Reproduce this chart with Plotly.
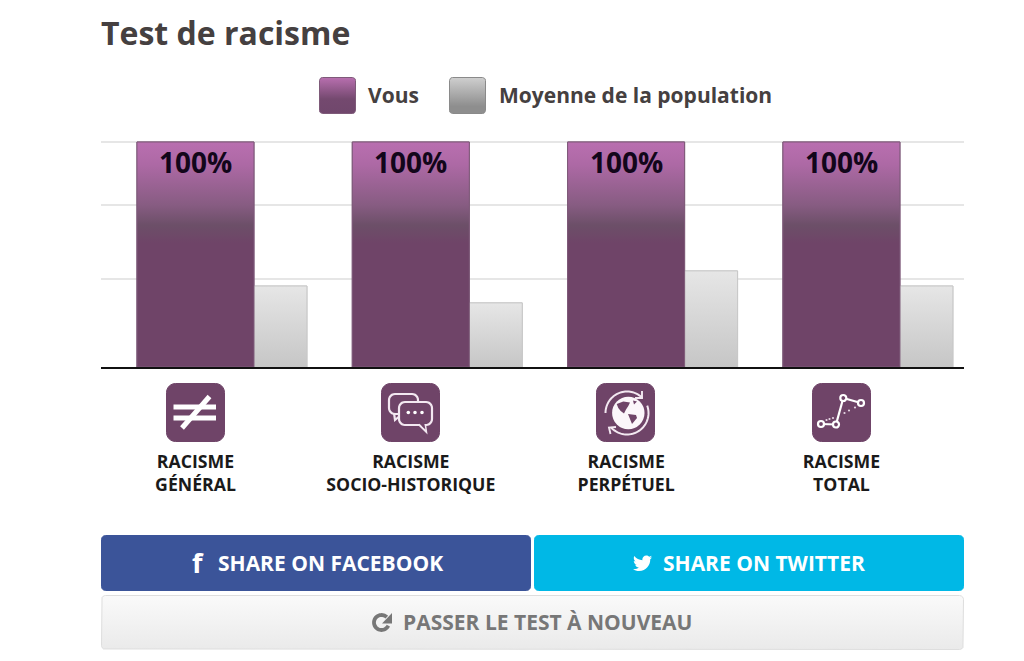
import math
import plotly.graph_objects as go

# ---------- data ----------
categories = ["RACISME<br>GÉNÉRAL", "RACISME<br>SOCIO-HISTORIQUE", "RACISME<br>PERPÉTUEL", "RACISME<br>TOTAL"]
vous_values = [100, 100, 100, 100]
moyenne_values = [36, 28.5, 42.7, 36]
grid_values = [39, 72, 100]
series_names = ["Vous", "Moyenne de la population"]

W, H = 1024, 661
FONT = "Open Sans, sans-serif"
DARK = "#454040"
PURPLE = "#6F4468"
WHITE = "#ffffff"
V_OFF, V_W = -0.272, 0.5435
M_OFF, M_W = 0.2715, 0.246
PURPLE_SCALE = [[0, "#6F4468"], [0.55, "#6F4468"], [0.63, "#6C4F68"], [0.72, "#875C82"], [0.9, "#AD69A5"], [1, "#B96FB0"]]
GRAY_SCALE = [[0, "#C6C6C6"], [1, "#E6E6E6"]]
x_idx = list(range(len(categories)))

fig = go.Figure()

# real bars, through the axes
fig.add_trace(go.Bar(x=x_idx, y=moyenne_values, name=series_names[1], offset=M_OFF, width=M_W,
                     marker=dict(color="#D6D6D6", line=dict(color="#C8C8C8", width=1)),
                     showlegend=False, cliponaxis=False))
fig.add_trace(go.Bar(x=x_idx, y=vous_values, name=series_names[0], offset=V_OFF, width=V_W,
                     marker=dict(color=PURPLE, line=dict(color="#7E5A79", width=1)),
                     showlegend=False, cliponaxis=False))

# gradient skin on each bar
def skin(i, v, off, wid, scale, line):
    l, r = i + off, i + off + wid
    fig.add_trace(go.Scatter(x=[l, r, r, l, l], y=[0, 0, v, v, 0], mode="lines", fill="toself",
                             line=dict(color=line, width=1), fillgradient=dict(type="vertical", colorscale=scale),
                             hoverinfo="skip", showlegend=False, cliponaxis=False))

for i, v in zip(x_idx, moyenne_values):
    skin(i, v, M_OFF, M_W, GRAY_SCALE, "#C8C8C8")
for i, v in zip(x_idx, vous_values):
    skin(i, v, V_OFF, V_W, PURPLE_SCALE, "#7E5A79")

annotations = []
for i, v in zip(x_idx, vous_values):
    annotations.append(dict(x=i, y=v, xref="x", yref="y", yanchor="top", yshift=1, showarrow=False,
                            text=f"{v}%", font=dict(family=FONT, size=28, color="#12061A", weight=700)))

# ---------- page furniture, drawn on a full-page pixel axis ----------
def rr_pts(x0, y0, x1, y1, r):
    xs, ys = [], []
    for cx, cy, a0 in ((x1 - r, y0 + r, -90), (x1 - r, y1 - r, 0), (x0 + r, y1 - r, 90), (x0 + r, y0 + r, 180)):
        for k in range(7):
            a = math.radians(a0 + 15 * k)
            xs.append(cx + r * math.cos(a))
            ys.append(cy + r * math.sin(a))
    return xs + xs[:1], ys + ys[:1]

def grad_box(x0, y0, x1, y1, r, scale, line):
    xs, ys = rr_pts(x0, y0, x1, y1, r)
    fig.add_trace(go.Scatter(x=xs, y=ys, xaxis="x2", yaxis="y2", mode="lines", fill="toself",
                             line=dict(color=line, width=1), fillgradient=dict(type="vertical", colorscale=scale),
                             hoverinfo="skip", showlegend=False))

def path_from(xs, ys, close=True):
    return "M" + " L".join(f"{a:.2f},{b:.2f}" for a, b in zip(xs, ys)) + (" Z" if close else "")

shapes = []
def box(x0, y0, x1, y1, r, fill, line=None):
    xs, ys = rr_pts(x0, y0, x1, y1, r)
    shapes.append(dict(type="path", xref="x2", yref="y2", path=path_from(xs, ys), fillcolor=fill,
                       line=dict(color=line or fill, width=1), layer="below"))

def poly(ox, oy, pts, fill=WHITE, line=None, width=0, close=True, scale=1.0):
    xs = [ox + p[0] * scale for p in pts]
    ys = [oy + p[1] * scale for p in pts]
    d = dict(type="path", xref="x2", yref="y2", path=path_from(xs, ys, close), layer="above")
    d["fillcolor"] = fill if close else "rgba(0,0,0,0)"
    d["line"] = dict(color=line or "rgba(0,0,0,0)", width=width)
    shapes.append(d)

def seg(ox, oy, a, b, width=5, color=WHITE):
    poly(ox, oy, [a, b], line=color, width=width, close=False)

def circle(ox, oy, cx, cy, r, fill=WHITE, line=None, width=0):
    shapes.append(dict(type="circle", xref="x2", yref="y2", x0=ox + cx - r, x1=ox + cx + r,
                       y0=oy + cy - r, y1=oy + cy + r, fillcolor=fill,
                       line=dict(color=line or "rgba(0,0,0,0)", width=width), layer="above"))

def arc(cx, cy, r, a0, a1, n=40):
    return [(cx + r * math.cos(math.radians(a0 + (a1 - a0) * k / n)),
             cy + r * math.sin(math.radians(a0 + (a1 - a0) * k / n))) for k in range(n + 1)]

SOFT = "#F3E8F1"
def rbubble(ox, oy, x0, y0, x1, y1, r, tail, width=2.2):
    xs, ys = rr_pts(x0, y0, x1, y1, r)
    poly(ox, oy, list(zip(xs, ys)), fill=PURPLE, line=SOFT, width=width)
    poly(ox, oy, tail, fill=PURPLE, line=SOFT, width=width, close=False)

# legend
grad_box(319.5, 77.5, 355.5, 113.5, 3, [[0, "#70476C"], [0.4, "#74496F"], [1, "#B86FAF"]], "#7E5A79")
grad_box(449.5, 77.5, 485.5, 113.5, 3, [[0, "#8E8E8E"], [0.2, "#8E8E8E"], [1, "#CFCFCF"]], "#8A8A8A")
annotations.append(dict(x=366, y=95, xref="x2", yref="y2", xanchor="left", showarrow=False, text=series_names[0],
                        font=dict(family=FONT, size=21, color=DARK, weight=700)))
annotations.append(dict(x=497, y=95, xref="x2", yref="y2", xanchor="left", showarrow=False, text=series_names[1],
                        font=dict(family=FONT, size=21, color=DARK, weight=700)))

# icons
ICON_Y = 383
ICON_X = [166, 381, 596, 812]
for ox in ICON_X:
    box(ox + 0.5, ICON_Y + 0.5, ox + 58.5, ICON_Y + 58.5, 9, PURPLE)

# not-equal
ox = ICON_X[0]
seg(ox, ICON_Y, (7.5, 24), (50, 24), 5)
seg(ox, ICON_Y, (7.5, 35), (50, 35), 5)
seg(ox, ICON_Y, (43.5, 13.5), (16, 45), 5)

# chat bubbles
ox = ICON_X[1]
rbubble(ox, ICON_Y, 8, 11, 37, 31, 6, [(13, 30), (14, 37), (20, 32)])
rbubble(ox, ICON_Y, 18, 19, 51, 42, 6, [(38, 41.5), (45, 48.5), (44, 41.5)])
poly(ox, ICON_Y, [(38.8, 41), (44.4, 46.5), (43.4, 41)], fill=PURPLE)
for dx in (27.3, 34, 41):
    circle(ox, ICON_Y, dx, 29.5, 1.8)

# globe
ox = ICON_X[2]
circle(ox, ICON_Y, 32.3, 30, 16.2, fill="#FBF6FA")
for pts in ([(20.7, 21), (27.3, 18.5), (34, 19.5), (32.3, 23), (30, 26.5), (28, 30.5), (24.7, 28), (22.3, 25)],
            [(32, 31), (40, 32), (41, 35), (36, 41), (34, 36)],
            [(37, 17.5), (41, 18.5), (38, 21.5)]):
    poly(ox, ICON_Y, pts, fill=PURPLE)
poly(ox, ICON_Y, arc(31, 30, 21.5, 180, 316), line=SOFT, width=2, close=False)
poly(ox, ICON_Y, arc(31, 30, 21.5, -20, 138), line=SOFT, width=2, close=False)
poly(ox, ICON_Y, [(46, 8), (46, 15), (39, 15)], line=SOFT, width=1.9, close=False)
poly(ox, ICON_Y, [(20, 44), (13, 44.5), (14.5, 51)], line=SOFT, width=1.9, close=False)

# graph
ox = ICON_X[3]
nodes = [(9, 41), (24, 41.5), (31.3, 15), (49, 20)]
for a, b in zip(nodes, nodes[1:]):
    seg(ox, ICON_Y, a, b, 2.2)
for n in nodes:
    circle(ox, ICON_Y, n[0], n[1], 3, fill=PURPLE, line=WHITE, width=2.2)
for d in [(14.5, 37), (17.5, 36), (21, 35), (32.5, 30), (37, 27.5), (43, 24.5)]:
    circle(ox, ICON_Y, d[0], d[1], 1.1, fill="#E6D5E3")

# buttons
box(101.5, 535.5, 530.5, 590.5, 4, "#3B5499")
box(534.5, 535.5, 963.5, 590.5, 4, "#00B8E6")
grad_box(101.5, 595.5, 963.5, 649.5, 4, [[0, "#EAEAEA"], [1, "#FAFAFA"]], "#DEDEDE")

# twitter bird (16-unit design, scaled)
def bird(ox, oy, s):
    raw = ("M5.03 15 C11.07 15 14.37 10 14.37 5.67 L14.36 5.24 C15.0 4.78 15.56 4.2 16 3.54 C15.41 3.8 14.77 3.98 14.11 4.06 "
           "C14.79 3.65 15.31 3.01 15.56 2.24 C14.92 2.62 14.22 2.89 13.47 3.04 C12.87 2.39 12.01 2 11.07 2 "
           "C9.26 2 7.78 3.47 7.78 5.29 C7.78 5.55 7.81 5.79 7.87 6.03 C5.14 5.9 2.72 4.59 1.11 2.6 "
           "C0.82 3.09 0.66 3.65 0.66 4.25 C0.66 5.39 1.24 6.4 2.13 6.98 C1.59 6.97 1.08 6.82 0.64 6.58 "
           "L0.64 6.62 C0.64 8.21 1.77 9.54 3.27 9.84 C3 9.91 2.71 9.95 2.41 9.95 C2.2 9.95 2 9.93 1.79 9.89 "
           "C2.21 11.2 3.42 12.14 4.86 12.17 C3.73 13.05 2.32 13.58 0.78 13.58 C0.51 13.58 0.26 13.56 0 13.53 "
           "C1.45 14.46 3.17 15 5.03 15 Z")
    toks = raw.replace("M", "M ").replace("L", "L ").replace("C", "C ").split()
    res, is_x = [], True
    for t in toks:
        if t.isalpha():
            res.append(t)
            is_x = True
        else:
            res.append(f"{(ox if is_x else oy) + float(t) * s:.2f}")
            is_x = not is_x
    path, i = "", 0
    while i < len(res):
        if res[i].isalpha():
            path += res[i]
            i += 1
        else:
            path += f"{res[i]},{res[i + 1]} "
            i += 2
    shapes.append(dict(type="path", xref="x2", yref="y2", path=path, fillcolor=WHITE,
                       line=dict(color="rgba(0,0,0,0)", width=0), layer="above"))

bird(633, 553, 1.2)

# refresh glyph
REFRESH = "#777777"
poly(0, 0, arc(381.5, 622.5, 7.5, -45, -335), line=REFRESH, width=3.8, close=False)
poly(0, 0, [(392, 613), (392, 623.5), (382, 623.5)], fill=REFRESH)

def label(x, y, text, size, color, anchor="left", family=FONT):
    annotations.append(dict(x=x, y=y, xref="x2", yref="y2", xanchor=anchor, showarrow=False, text=text,
                            font=dict(family=family, size=size, color=color, weight=700)))

label(190, 562, "f", 27, WHITE)
label(216, 563, "SHARE ON FACEBOOK", 21, WHITE)
label(661, 563, "SHARE ON TWITTER", 21, WHITE)
label(401, 622, "PASSER LE TEST À NOUVEAU", 21, "#777777")

fig.update_layout(
    width=W, height=H, margin=dict(l=0, r=0, t=0, b=0),
    paper_bgcolor="white", plot_bgcolor="rgba(0,0,0,0)",
    barmode="overlay", showlegend=False,
    title=dict(text="Test de racisme", x=101 / W, xref="paper", xanchor="left", y=1 - 33.5 / H, yref="paper",
               yanchor="middle", font=dict(family=FONT, size=32, color=DARK, weight=700)),
    xaxis=dict(domain=[101 / W, 964 / W], range=[-0.439, 3.569], anchor="y", tickmode="array",
               tickvals=x_idx, ticktext=categories, ticks="", showgrid=False, zeroline=False,
               showline=True, linecolor="#111111", linewidth=2, ticklabelstandoff=78,
               tickfont=dict(family=FONT, size=17.7, color="#1A1A1A", weight=700)),
    yaxis=dict(domain=[1 - 367 / H, 1 - 140.65 / H], range=[0, 100.6], anchor="x", tickmode="array",
               tickvals=grid_values, showticklabels=False, ticks="", showgrid=True, gridcolor="#E6E6E6",
               gridwidth=2, zeroline=False, showline=False),
    xaxis2=dict(domain=[0, 1], range=[0, W], anchor="y2", visible=False, fixedrange=True),
    yaxis2=dict(domain=[0, 1], range=[H, 0], anchor="x2", visible=False, fixedrange=True),
    annotations=annotations, shapes=shapes,
)

fig.write_html("out.html", config=dict(displayModeBar=False),
               post_script="document.body.style.margin='0';document.documentElement.style.overflow='hidden';")
